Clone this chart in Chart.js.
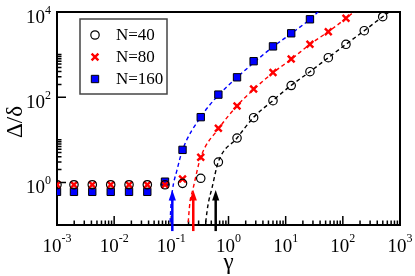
<!DOCTYPE html>
<html>
<head>
<meta charset="utf-8">
<script src="https://cdn.jsdelivr.net/npm/chart.js@4.4.1/dist/chart.umd.min.js"></script>
<style>
  html, body { margin: 0; padding: 0; background: #fff; }
  #wrap { width: 415px; height: 276px; }
</style>
</head>
<body>
<div id="wrap"><canvas id="grafico" width="415" height="276"></canvas></div>
<script>
// datos (gamma, Delta/delta)
const gammaPts = [0.001, 0.00198, 0.00414, 0.0087, 0.0182, 0.038, 0.0775, 0.157, 0.327, 0.665,
                  1.41, 2.75, 6.0, 12.5, 26.6, 55.7, 113.5, 237, 498];
const deltaN40 = [0.88, 0.88, 0.88, 0.88, 0.88, 0.88, 0.88, 0.95, 1.25, 3.0,
                  11.0, 33.0, 83, 188, 397, 846, 1746, 3640, 7760];
const deltaN80 = [0.88, 0.88, 0.88, 0.88, 0.88, 0.88, 0.88, 1.2, 3.9, 18.6,
                  62, 156, 380, 789, 1745, 3450, 7110];
const deltaN160 = [0.6, 0.6, 0.6, 0.6, 0.6, 0.6, 1.04, 5.8, 34, 115,
                   293, 700, 1560, 3162, 6740];

// curvas de ajuste (discontinuas)
const fit40Gamma = [0.385, 0.4375, 0.514, 0.662, 1.41, 2.71, 5.93, 12.4, 26.6, 55.7, 113.5, 237, 498, 724];
const fit40Delta = [0.08, 0.294, 0.739, 3.01, 11.0, 33.0, 82.8, 188, 397, 846, 1746, 3640, 7760, 11140];
const fit80Gamma = [0.193, 0.212, 0.237, 0.327, 0.68, 1.40, 2.8, 6.1, 12.7, 26.6, 55.7, 113.5, 163];
const fit80Delta = [0.08, 0.347, 0.663, 3.88, 18.6, 62, 156, 380, 789, 1745, 3450, 7110, 10550];
const fit160Gamma = [0.094, 0.0986, 0.1047, 0.1256, 0.157, 0.33, 0.68, 1.42, 2.96, 6.1, 12.7, 26.6, 38.3];
const fit160Delta = [0.08, 0.294, 0.663, 1.95, 5.77, 34.8, 115, 293, 700, 1550, 3162, 6740, 10550];

// flechas en gamma critico
const arrowGamma = [0.104, 0.242, 0.597];
const arrowColors = ['#0000ff', '#ff0000', '#000000'];
const arrowTop = 0.66;
const arrowBottom = 0.072;

const xTickExp = [-3, -2, -1, 0, 1, 2, 3];
const yTickExp = [0, 2, 4];
const yMinorTicks = [2, 3, 4, 5, 6, 7, 8, 9, 10, 200, 300, 400, 500, 600, 700, 800, 900, 1000];
const legendLabels = ['N=40', 'N=80', 'N=160'];

const SERIF = '"Liberation Serif", "DejaVu Serif", serif';

function pares(xs, ys) {
    return ys.map((y, i) => ({ x: xs[i], y: y }));
}

function drawPow(ctx, exp, x, baseline, align) {
    ctx.font = '19px ' + SERIF;
    const w1 = ctx.measureText('10').width;
    ctx.font = '12px ' + SERIF;
    const w2 = ctx.measureText(String(exp)).width;
    const x0 = align === 'center' ? x - (w1 + w2) / 2 : x - (w1 + w2);
    ctx.fillStyle = '#000';
    ctx.textAlign = 'left';
    ctx.textBaseline = 'alphabetic';
    ctx.font = '19px ' + SERIF;
    ctx.fillText('10', x0, baseline);
    ctx.font = '12px ' + SERIF;
    ctx.fillText(String(exp), x0 + w1, baseline - 9.5);
}

const ejesPlugin = {
    id: 'ejes',
    beforeDatasetsDraw(chart) {
        const { ctx, chartArea: a, scales: { x, y } } = chart;
        ctx.save();
        ctx.strokeStyle = '#000';
        ctx.lineWidth = 1.5;
        ctx.beginPath();
        // ticks eje x
        xTickExp.forEach((e, i) => {
            const px = x.getPixelForValue(Math.pow(10, e));
            ctx.moveTo(px, a.bottom);
            ctx.lineTo(px, a.bottom - 9);
            if (i < xTickExp.length - 1) {
                for (let k = 2; k <= 9; k++) {
                    const mx = x.getPixelForValue(k * Math.pow(10, e));
                    ctx.moveTo(mx, a.bottom);
                    ctx.lineTo(mx, a.bottom - 4.5);
                }
            }
        });
        // ticks eje y
        yTickExp.forEach(e => {
            const py = y.getPixelForValue(Math.pow(10, e));
            ctx.moveTo(a.left, py);
            ctx.lineTo(a.left + 9, py);
        });
        yMinorTicks.forEach(v => {
            const py = y.getPixelForValue(v);
            ctx.moveTo(a.left, py);
            ctx.lineTo(a.left + 4.5, py);
        });
        ctx.stroke();
        ctx.lineWidth = 2;
        ctx.strokeRect(a.left, a.top, a.right - a.left, a.bottom - a.top);

        xTickExp.forEach(e => drawPow(ctx, e, x.getPixelForValue(Math.pow(10, e)), a.bottom + 26.5, 'center'));
        yTickExp.forEach(e => drawPow(ctx, e, a.left - 6, y.getPixelForValue(Math.pow(10, e)) + 11, 'right'));

        // titulos
        ctx.fillStyle = '#000';
        ctx.font = '23px ' + SERIF;
        ctx.textAlign = 'center';
        ctx.textBaseline = 'alphabetic';
        ctx.fillText('γ', (a.left + a.right) / 2, 269);
        ctx.save();
        ctx.translate(22, 122);
        ctx.rotate(-Math.PI / 2);
        ctx.fillText('Δ/δ', 0, 0);
        ctx.restore();
        ctx.restore();
    },
    afterDatasetsDraw(chart) {
        const { ctx, scales: { x, y } } = chart;
        ctx.save();
        arrowGamma.forEach((g, i) => {
            const px = x.getPixelForValue(g);
            const yTip = y.getPixelForValue(arrowTop);
            const yBot = y.getPixelForValue(arrowBottom);
            ctx.strokeStyle = arrowColors[i];
            ctx.fillStyle = arrowColors[i];
            ctx.lineWidth = 2.5;
            ctx.beginPath();
            ctx.moveTo(px, yBot);
            ctx.lineTo(px, yTip + 8);
            ctx.stroke();
            ctx.beginPath();
            ctx.moveTo(px, yTip);
            ctx.lineTo(px - 3.6, yTip + 10.5);
            ctx.lineTo(px + 3.6, yTip + 10.5);
            ctx.closePath();
            ctx.fill();
        });

        // leyenda
        const bx = 80, by = 19, bw = 87, bh = 75;
        ctx.fillStyle = '#fff';
        ctx.fillRect(bx, by, bw, bh);
        ctx.strokeStyle = '#444';
        ctx.lineWidth = 1.5;
        ctx.strokeRect(bx, by, bw, bh);
        const rows = [35, 57, 79];
        rows.forEach((ry, i) => {
            const ds = chart.data.datasets[i];
            ctx.strokeStyle = ds.pointBorderColor;
            ctx.fillStyle = ds.pointBackgroundColor;
            ctx.lineWidth = ds.pointBorderWidth;
            Chart.helpers.drawPoint(ctx, { pointStyle: ds.pointStyle, radius: ds.pointRadius, borderWidth: ds.pointBorderWidth, rotation: 0 }, 95, ry);
            ctx.fillStyle = '#000';
            ctx.font = '17px ' + SERIF;
            ctx.textAlign = 'left';
            ctx.textBaseline = 'middle';
            ctx.fillText(legendLabels[i], 116, ry + 1);
        });
        ctx.restore();
    }
};

const ctx = document.getElementById('grafico');
new Chart(ctx, {
    type: 'scatter',
    data: {
        datasets: [
            { label: legendLabels[0], data: pares(gammaPts, deltaN40), pointStyle: 'circle', pointRadius: 4.2,
              pointBorderColor: '#000', pointBackgroundColor: 'rgba(0,0,0,0)', pointBorderWidth: 1.2, showLine: false, order: 1 },
            { label: legendLabels[1], data: pares(gammaPts, deltaN80), pointStyle: 'crossRot', pointRadius: 4.8,
              pointBorderColor: '#ff0000', pointBackgroundColor: '#ff0000', pointBorderWidth: 2.4, showLine: false, order: 1 },
            { label: legendLabels[2], data: pares(gammaPts, deltaN160), pointStyle: 'rect', pointRadius: 5.2,
              pointBorderColor: '#000', pointBackgroundColor: '#0000ff', pointBorderWidth: 1, showLine: false, order: 1 },
            { label: 'fit40', data: pares(fit40Gamma, fit40Delta), showLine: true, pointRadius: 0, borderColor: '#000',
              borderWidth: 1.4, borderDash: [4, 3], cubicInterpolationMode: 'monotone', order: 2 },
            { label: 'fit80', data: pares(fit80Gamma, fit80Delta), showLine: true, pointRadius: 0, borderColor: '#ff0000',
              borderWidth: 1.4, borderDash: [4, 3], cubicInterpolationMode: 'monotone', order: 2 },
            { label: 'fit160', data: pares(fit160Gamma, fit160Delta), showLine: true, pointRadius: 0, borderColor: '#0000ff',
              borderWidth: 1.4, borderDash: [4, 3], cubicInterpolationMode: 'monotone', order: 2 }
        ]
    },
    options: {
        responsive: false,
        animation: false,
        devicePixelRatio: 1,
        layout: { padding: { left: 57, top: 12, right: 15, bottom: 51 } },
        plugins: { legend: { display: false }, tooltip: { enabled: false } },
        scales: {
            x: { type: 'logarithmic', min: 0.001, max: 1000, display: false },
            y: { type: 'logarithmic', min: 0.1, max: 10000, display: false }
        }
    },
    plugins: [ejesPlugin]
});
</script>
</body>
</html>
